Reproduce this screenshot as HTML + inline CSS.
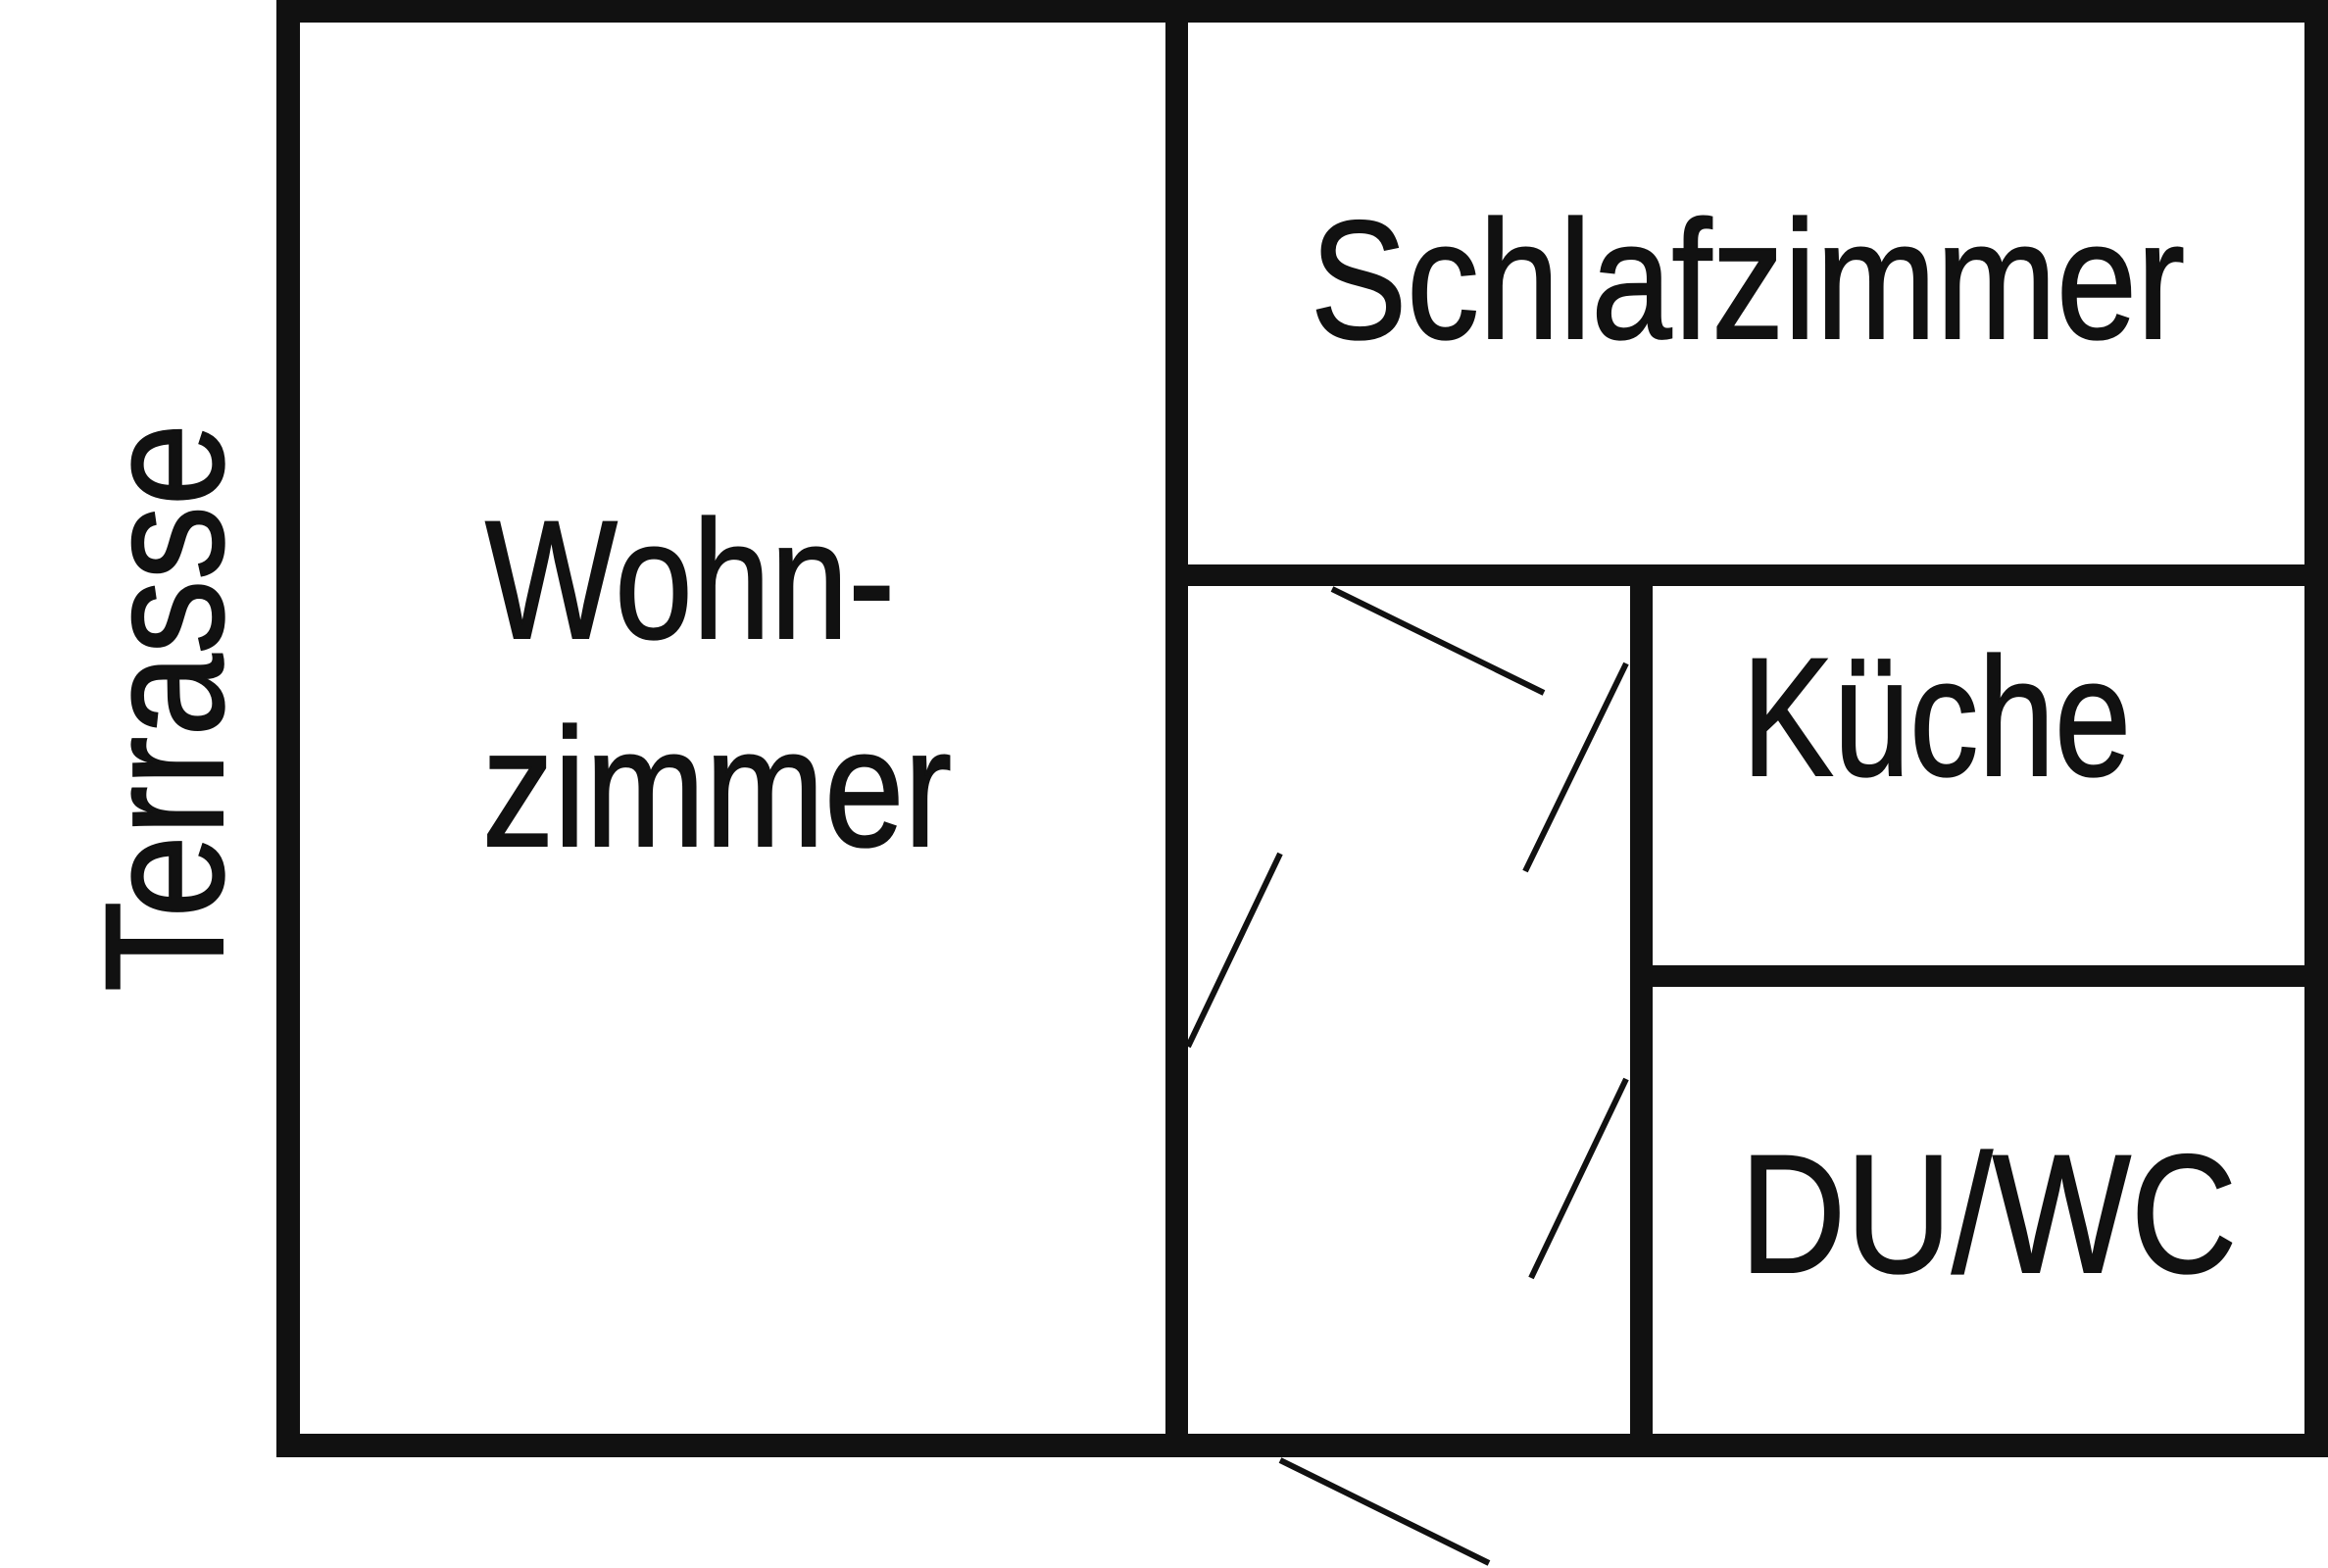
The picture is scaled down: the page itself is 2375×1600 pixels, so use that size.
<!DOCTYPE html>
<html><head><meta charset="utf-8"><style>html,body{margin:0;padding:0;background:#fff}svg{display:block}</style></head>
<body>
<svg width="2375" height="1600" viewBox="0 0 2375 1600" xmlns="http://www.w3.org/2000/svg">
<rect width="2375" height="1600" fill="#fff"/>
<g fill="#111">
<rect x="282" y="0" width="24" height="1487"/>
<rect x="282" y="0" width="2093" height="23"/>
<rect x="2351" y="0" width="24" height="1487"/>
<rect x="282" y="1463" width="2093" height="24"/>
<rect x="1189" y="0" width="23" height="1487"/>
<rect x="1189" y="576" width="1186" height="22"/>
<rect x="1663" y="576" width="23" height="911"/>
<rect x="1663" y="985" width="712" height="22"/>
</g>
<g stroke="#111" stroke-width="6" fill="none">
<line x1="1359" y1="601" x2="1575" y2="707"/>
<line x1="1659" y1="677" x2="1556" y2="889"/>
<line x1="1306" y1="871" x2="1212" y2="1068"/>
<line x1="1659" y1="1101" x2="1562" y2="1304"/>
<line x1="1306" y1="1490" x2="1519" y2="1595"/>
</g>
<g font-family="'Liberation Sans', sans-serif" font-size="172" fill="#111" stroke="#111" stroke-width="2">
<text x="1337" y="345" textLength="892" lengthAdjust="spacingAndGlyphs">Schlafzimmer</text>
<text x="495" y="651" textLength="418" lengthAdjust="spacingAndGlyphs">Wohn-</text>
<text x="492" y="863" textLength="479" lengthAdjust="spacingAndGlyphs">zimmer</text>
<text x="1777" y="791" textLength="397" lengthAdjust="spacingAndGlyphs">Küche</text>
<text x="1775" y="1298" textLength="507" lengthAdjust="spacingAndGlyphs">DU/WC</text>
<text transform="translate(227,1012) rotate(-90)" x="0" y="0" textLength="580" lengthAdjust="spacingAndGlyphs">Terrasse</text>
</g>
</svg>
</body></html>
